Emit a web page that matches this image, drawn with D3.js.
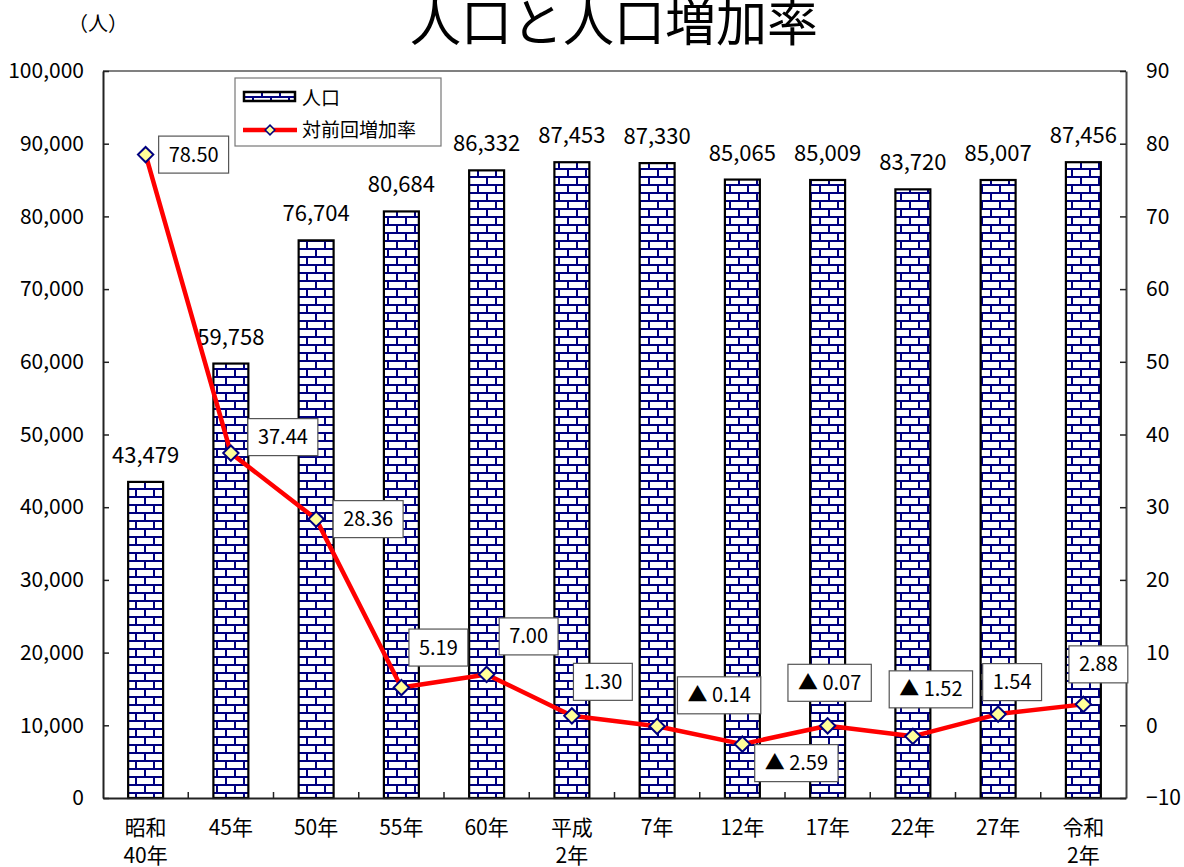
<!DOCTYPE html>
<html><head><meta charset="utf-8">
<script src="https://cdn.jsdelivr.net/npm/d3@7"></script>
<style>
html,body{margin:0;padding:0;background:#fff;}
svg{display:block;font-family:"Noto Sans CJK JP","Noto Sans",sans-serif;}
</style></head>
<body><svg id="c" width="1184" height="867"></svg>
<script>
const categories = ["昭和\n40年","45年","50年","55年","60年","平成\n2年","7年","12年","17年","22年","27年","令和\n2年"];
const population = [43479,59758,76704,80684,86332,87453,87330,85065,85009,83720,85007,87456];
const growthRate = [78.50,37.44,28.36,5.19,7.00,1.30,-0.14,-2.59,-0.07,-1.52,1.54,2.88];
const leftTicks = [0,10000,20000,30000,40000,50000,60000,70000,80000,90000,100000];
const rightTicks = [-10,0,10,20,30,40,50,60,70,80,90];
// label box offsets (box centre relative to marker), layout only
const rateLabelOffset = [[48,0],[52,-16],[52,0],[37,-40],[42,-38],[31,-34],[62,-31],[54,19],[2,-43],[18,-47],[14,-32],[15,-40]];

const svg = d3.select("#c");
const L=103,R=1126,T=71,B=798;
const x = d3.scaleBand().domain(categories).range([L,R]).padding(0);
const yL = d3.scaleLinear().domain([0,100000]).range([B,T]);
const yR = d3.scaleLinear().domain([-10,90]).range([B,T]);
const barW = x.bandwidth()*0.41;
const navy="#000080";

// brick pattern
const defs = svg.append("defs");
const pat = defs.append("pattern").attr("id","brick").attr("patternUnits","userSpaceOnUse")
  .attr("width",18).attr("height",16).attr("x",0).attr("y",0);
pat.append("rect").attr("width",18).attr("height",16).attr("fill","#fff");
pat.append("rect").attr("x",0).attr("y",0).attr("width",18).attr("height",2).attr("fill",navy);
pat.append("rect").attr("x",0).attr("y",8).attr("width",18).attr("height",2).attr("fill",navy);
pat.append("rect").attr("x",0).attr("y",0).attr("width",2).attr("height",8).attr("fill",navy);
pat.append("rect").attr("x",9).attr("y",8).attr("width",2).attr("height",8).attr("fill",navy);

// title
svg.append("text").attr("x",614).attr("y",41).attr("text-anchor","middle")
  .attr("font-size",51).attr("fill","#000").text("人口と人口増加率");
svg.append("text").attr("x",68).attr("y",31).attr("font-size",20).attr("fill","#000").text("（人）");

// plot frame
svg.append("line").attr("x1",L).attr("x2",R).attr("y1",T).attr("y2",T).attr("stroke","#808080").attr("stroke-width",2);

// bars
svg.append("g").selectAll("rect").data(population).join("rect")
  .attr("x",(d,i)=>x(categories[i])+x.bandwidth()/2-barW/2)
  .attr("y",d=>yL(d)).attr("width",barW).attr("height",d=>B-yL(d))
  .attr("fill","url(#brick)").attr("stroke","#000").attr("stroke-width",2.2);

// bar value labels
svg.append("g").selectAll("text").data(population).join("text")
  .attr("x",(d,i)=>x(categories[i])+x.bandwidth()/2).attr("y",d=>yL(d)-19)
  .attr("text-anchor","middle").attr("font-size",22).attr("fill","#000")
  .text(d=>d3.format(",")(d));

// axes
const axL = svg.append("g").attr("transform",`translate(${L},0)`)
  .call(d3.axisLeft(yL).tickValues(leftTicks).tickSize(-6).tickSizeOuter(0).tickPadding(19).tickFormat(d3.format(",")));
const axR = svg.append("g").attr("transform",`translate(${R},0)`)
  .call(d3.axisRight(yR).tickValues(rightTicks).tickSize(-6).tickSizeOuter(0).tickPadding(20).tickFormat(d=>d<0?"−"+Math.abs(d):d));
[axL,axR].forEach(a=>{
  a.selectAll("text").attr("font-size",21).attr("fill","#000").attr("font-family",'"Noto Sans CJK JP",sans-serif');
  a.select(".domain").attr("stroke","#222").attr("stroke-width",2);
  a.selectAll(".tick line").attr("stroke","#222").attr("stroke-width",1.5);
});
axR.select(".domain").attr("stroke","#444");

// bottom axis
const axB = svg.append("g").attr("transform",`translate(0,${B})`)
  .call(d3.axisBottom(x).tickSize(0).tickSizeOuter(0).tickFormat(""));
axB.select(".domain").attr("stroke","#222").attr("stroke-width",2);
axB.selectAll(".tick").remove();
svg.append("g").selectAll("line").data(categories.slice(1)).join("line")
  .attr("x1",d=>x(d)).attr("x2",d=>x(d)).attr("y1",B).attr("y2",B-6)
  .attr("stroke","#222").attr("stroke-width",1.5);
const xl = svg.append("g").selectAll("text").data(categories).join("text")
  .attr("x",d=>x(d)+x.bandwidth()/2).attr("y",835).attr("text-anchor","middle")
  .attr("font-size",21).attr("fill","#000");
xl.each(function(d){
  const t=d3.select(this);
  d.split("\n").forEach((s,k)=>t.append("tspan").attr("x",x(d)+x.bandwidth()/2).attr("dy",k?28:0).text(s));
});

// line
const line = d3.line().x((d,i)=>x(categories[i])+x.bandwidth()/2).y(d=>yR(d));
svg.append("path").datum(growthRate).attr("d",line).attr("fill","none")
  .attr("stroke","#ff0000").attr("stroke-width",4.5).attr("stroke-linejoin","round");
const diamond = d3.symbol().type(d3.symbolDiamond2).size(150);
svg.append("g").selectAll("path").data(growthRate).join("path")
  .attr("d",diamond).attr("transform",(d,i)=>`translate(${x(categories[i])+x.bandwidth()/2},${yR(d)})`)
  .attr("fill","#ffff99").attr("stroke",navy).attr("stroke-width",2);

// rate labels
const rl = svg.append("g");
growthRate.forEach((d,i)=>{
  const cx = x(categories[i])+x.bandwidth()/2 + rateLabelOffset[i][0];
  const cy = yR(d) + rateLabelOffset[i][1];
  const g = rl.append("g");
  const rect = g.append("rect");
  const txt = g.append("text").attr("x",cx).attr("y",cy+7).attr("text-anchor","middle")
    .attr("font-size",20).attr("fill","#000")
    .text(d<0 ? "▲ "+Math.abs(d).toFixed(2) : d.toFixed(2));
  const bb = txt.node().getBBox();
  const w = bb.width+20, h=37;
  rect.attr("x",cx-w/2).attr("y",cy-h/2).attr("width",w).attr("height",h)
    .attr("fill","#fff").attr("stroke","#555").attr("stroke-width",1.2);
});

// legend
const lg = svg.append("g");
lg.append("rect").attr("x",235).attr("y",78).attr("width",206).attr("height",68)
  .attr("fill","#fff").attr("stroke","#777").attr("stroke-width",1.2);
lg.append("rect").attr("x",244).attr("y",92).attr("width",51).attr("height",9)
  .attr("fill","url(#brick)").attr("stroke","#000").attr("stroke-width",2.5);
lg.append("text").attr("x",302).attr("y",105).attr("font-size",19).attr("fill","#000").text("人口");
lg.append("line").attr("x1",243).attr("x2",297).attr("y1",130).attr("y2",130)
  .attr("stroke","#ff0000").attr("stroke-width",4.5);
lg.append("path").attr("d",d3.symbol().type(d3.symbolDiamond2).size(60)())
  .attr("transform","translate(270,130)").attr("fill","#ffff99").attr("stroke",navy).attr("stroke-width",1.5);
lg.append("text").attr("x",302).attr("y",137).attr("font-size",19).attr("fill","#000").text("対前回増加率");
</script></body></html>
